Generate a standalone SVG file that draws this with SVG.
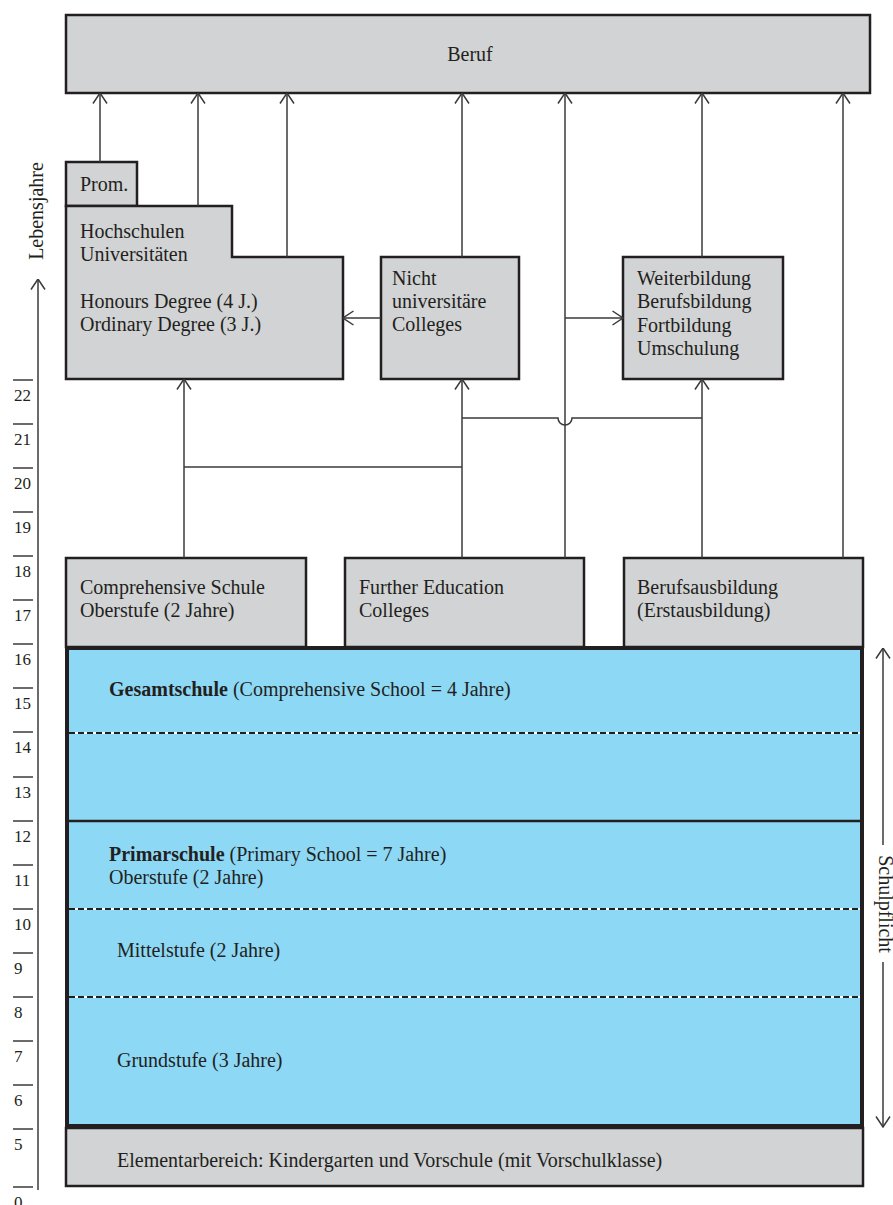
<svg xmlns="http://www.w3.org/2000/svg" width="893" height="1205" viewBox="0 0 893 1205">
<style>
text{font-family:"Liberation Serif","Times New Roman",serif;font-size:20px;fill:#231f20}
.box{fill:#d1d3d4;stroke:#231f20;stroke-width:2.5}
.blue{fill:#8dd8f5;stroke:#231f20;stroke-width:4}
.ln{fill:none;stroke:#3a3a3a;stroke-width:1.5}
.tick{stroke:#3a3a3a;stroke-width:1.5}
.num{font-size:17px}
.dash{stroke:#231f20;stroke-width:2;stroke-dasharray:6 3}
.dashbg{stroke:#ffffff;stroke-width:2}
.b{font-weight:bold}
</style>
<defs>
<marker id="ar" viewBox="0 0 12 16" refX="11.5" refY="8" markerWidth="12" markerHeight="16" orient="auto" markerUnits="userSpaceOnUse">
<path d="M1,1 L11.5,8 L1,15" fill="none" stroke="#3a3a3a" stroke-width="1.5"/>
</marker>
</defs>

<g id="beruf"><rect class="box" x="66" y="15" width="804" height="78"/><text x="470" y="61" text-anchor="middle">Beruf</text></g>

<g id="prom"><rect class="box" x="66" y="162" width="71" height="44"/><text x="80" y="191">Prom.</text></g>
<g id="hochschulen"><path class="box" d="M66,206 H232 V257 H343 V379 H66 Z"/>
<text x="80" y="238">Hochschulen</text><text x="80" y="261">Universitäten</text>
<text x="80" y="308">Honours Degree (4 J.)</text><text x="80" y="331">Ordinary Degree (3 J.)</text></g>

<g id="colleges"><rect class="box" x="381" y="257" width="138" height="122"/>
<text x="392" y="285">Nicht</text><text x="392" y="308">universitäre</text><text x="392" y="331">Colleges</text></g>

<g id="weiterbildung"><rect class="box" x="623" y="257" width="160" height="122"/>
<text x="637" y="285">Weiterbildung</text><text x="637" y="308">Berufsbildung</text><text x="637" y="332">Fortbildung</text><text x="637" y="355">Umschulung</text></g>

<g id="comprehensive"><rect class="box" x="66" y="558" width="240" height="89"/>
<text x="80" y="594">Comprehensive Schule</text><text x="80" y="617">Oberstufe (2 Jahre)</text></g>
<g id="further"><rect class="box" x="345" y="558" width="239" height="89"/>
<text x="359" y="594">Further Education</text><text x="359" y="617">Colleges</text></g>
<g id="berufsausbildung"><rect class="box" x="624" y="558" width="239" height="89"/>
<text x="637" y="594">Berufsausbildung</text><text x="637" y="617">(Erstausbildung)</text></g>

<g id="pflichtschule">
<rect class="blue" x="67" y="648" width="795" height="478"/>
<line class="dashbg" x1="69" y1="733" x2="860" y2="733"/><line class="dash" x1="69" y1="733" x2="860" y2="733"/>
<line x1="69" y1="821" x2="860" y2="821" stroke="#231f20" stroke-width="2.5"/>
<line class="dashbg" x1="69" y1="909" x2="860" y2="909"/><line class="dash" x1="69" y1="909" x2="860" y2="909"/>
<line class="dashbg" x1="69" y1="997" x2="860" y2="997"/><line class="dash" x1="69" y1="997" x2="860" y2="997"/>
<text x="109" y="696"><tspan class="b">Gesamtschule</tspan> (Comprehensive School = 4 Jahre)</text>
<text x="109" y="861"><tspan class="b">Primarschule</tspan> (Primary School = 7 Jahre)</text>
<text x="109" y="884">Oberstufe (2 Jahre)</text>
<text x="117" y="957">Mittelstufe (2 Jahre)</text>
<text x="117" y="1067">Grundstufe (3 Jahre)</text>
</g>

<g id="elementar"><rect class="box" x="66" y="1128" width="797" height="58"/>
<text x="117" y="1167">Elementarbereich: Kindergarten und Vorschule (mit Vorschulklasse)</text></g>

<g id="connectors">
<line class="ln" x1="100" y1="162" x2="100" y2="93" marker-end="url(#ar)"/>
<line class="ln" x1="198" y1="206" x2="198" y2="93" marker-end="url(#ar)"/>
<line class="ln" x1="287" y1="257" x2="287" y2="93" marker-end="url(#ar)"/>
<line class="ln" x1="462" y1="257" x2="462" y2="93" marker-end="url(#ar)"/>
<line class="ln" x1="565" y1="558" x2="565" y2="93" marker-end="url(#ar)"/>
<line class="ln" x1="702" y1="257" x2="702" y2="93" marker-end="url(#ar)"/>
<line class="ln" x1="843" y1="558" x2="843" y2="93" marker-end="url(#ar)"/>
<line class="ln" x1="381" y1="318" x2="343" y2="318" marker-end="url(#ar)"/>
<line class="ln" x1="565" y1="318" x2="623" y2="318" marker-end="url(#ar)"/>
<line class="ln" x1="184" y1="558" x2="184" y2="379" marker-end="url(#ar)"/>
<line class="ln" x1="462" y1="558" x2="462" y2="379" marker-end="url(#ar)"/>
<line class="ln" x1="702" y1="558" x2="702" y2="379" marker-end="url(#ar)"/>
<line class="ln" x1="184" y1="467" x2="462" y2="467"/>
<path class="ln" d="M462,418 H558 A7,7 0 0 0 572,418 H702"/>
</g>

<g id="lebensjahre">
<line class="ln" x1="38" y1="1190" x2="38" y2="279" marker-end="url(#ar)"/>
<text transform="translate(43,211) rotate(-90)" text-anchor="middle">Lebensjahre</text>
<g class="tick">
<line x1="13" y1="380" x2="33" y2="380"/><line x1="13" y1="424" x2="33" y2="424"/><line x1="13" y1="468" x2="33" y2="468"/><line x1="13" y1="512" x2="33" y2="512"/><line x1="13" y1="556" x2="33" y2="556"/><line x1="13" y1="600" x2="33" y2="600"/><line x1="13" y1="644" x2="33" y2="644"/><line x1="13" y1="688" x2="33" y2="688"/><line x1="13" y1="732" x2="33" y2="732"/><line x1="13" y1="777" x2="33" y2="777"/><line x1="13" y1="821" x2="33" y2="821"/><line x1="13" y1="865" x2="33" y2="865"/><line x1="13" y1="909" x2="33" y2="909"/><line x1="13" y1="953" x2="33" y2="953"/><line x1="13" y1="997" x2="33" y2="997"/><line x1="13" y1="1041" x2="33" y2="1041"/><line x1="13" y1="1085" x2="33" y2="1085"/><line x1="13" y1="1129" x2="33" y2="1129"/><line x1="13" y1="1187" x2="33" y2="1187"/>
</g>
<g class="num">
<text class="num" x="14" y="401">22</text><text class="num" x="14" y="445">21</text><text class="num" x="14" y="489">20</text><text class="num" x="14" y="533">19</text><text class="num" x="14" y="577">18</text><text class="num" x="14" y="621">17</text><text class="num" x="14" y="665">16</text><text class="num" x="14" y="709">15</text><text class="num" x="14" y="753">14</text><text class="num" x="14" y="798">13</text><text class="num" x="14" y="842">12</text><text class="num" x="14" y="886">11</text><text class="num" x="14" y="930">10</text><text class="num" x="14" y="974">9</text><text class="num" x="14" y="1018">8</text><text class="num" x="14" y="1062">7</text><text class="num" x="14" y="1106">6</text><text class="num" x="14" y="1150">5</text><text class="num" x="14" y="1208">0</text>
</g>
</g>

<g id="schulpflicht">
<line class="ln" x1="883" y1="845" x2="883" y2="648" marker-end="url(#ar)"/>
<line class="ln" x1="883" y1="962" x2="883" y2="1127" marker-end="url(#ar)"/>
<text transform="translate(879,904) rotate(90)" text-anchor="middle">Schulpflicht</text>
</g>
</svg>
